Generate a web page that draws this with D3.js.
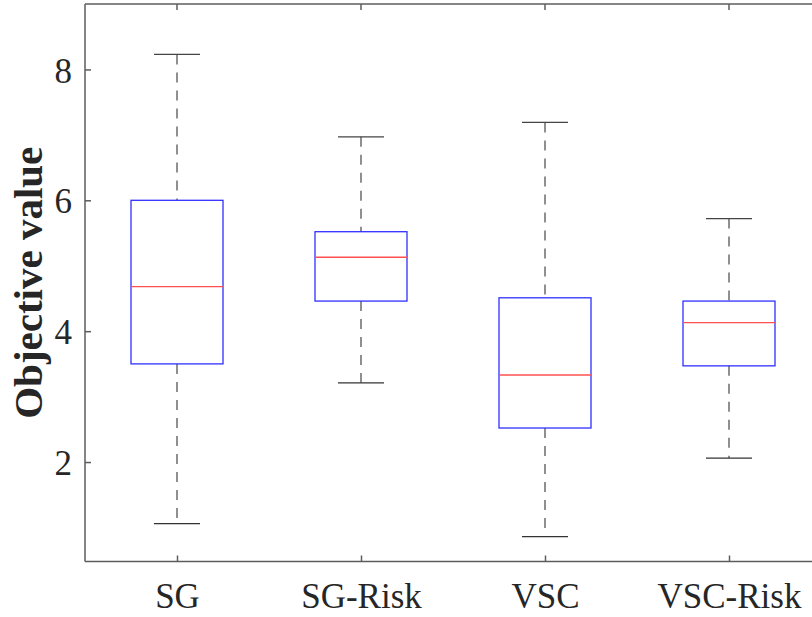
<!DOCTYPE html>
<html>
<head>
<meta charset="utf-8">
<script src="https://cdn.jsdelivr.net/npm/d3@7/dist/d3.min.js"></script>
<style>
  html, body { margin: 0; padding: 0; background: #fff; }
  svg { display: block; }
  text { font-family: "Liberation Serif", "Times New Roman", serif; fill: #262626; }
</style>
</head>
<body>
<svg id="chart" width="812" height="617"></svg>
<script>
// Box-plot summary statistics per method
const categories = ["SG", "SG-Risk", "VSC", "VSC-Risk"];
const lowerWhisker = [1.06, 3.21, 0.86, 2.06];
const q1Values     = [3.50, 4.46, 2.52, 3.47];
const medians      = [4.68, 5.13, 3.33, 4.13];
const q3Values     = [6.00, 5.52, 4.51, 4.46];
const upperWhisker = [8.23, 6.97, 7.19, 5.72];
const yTicks = [2, 4, 6, 8];

const boxes = categories.map((c, i) => ({
  name: c, pos: i + 1,
  lo: lowerWhisker[i], q1: q1Values[i], med: medians[i], q3: q3Values[i], hi: upperWhisker[i]
}));

const svg = d3.select("#chart");
const plotLeft = 85, plotRight = 821, plotTop = 4, plotBottom = 561.5;

const x = d3.scaleLinear().domain([0.5, 4.5]).range([plotLeft, plotRight]);
const y = d3.scaleLinear().domain([0.48, 9.0]).range([plotBottom, plotTop]);

const axisColor = "#5c5c5c";
const boxHalf = 0.25, capHalf = 0.125;

// Whiskers (dashed) from box edges to the adjacent values
const g = svg.append("g");
g.selectAll("line.wu").data(boxes).join("line")
  .attr("x1", d => x(d.pos)).attr("x2", d => x(d.pos))
  .attr("y1", d => y(d.hi)).attr("y2", d => y(d.q3))
  .attr("stroke", "#555").attr("stroke-width", 1.3).attr("stroke-dasharray", "10,8");
g.selectAll("line.wl").data(boxes).join("line")
  .attr("x1", d => x(d.pos)).attr("x2", d => x(d.pos))
  .attr("y1", d => y(d.q1)).attr("y2", d => y(d.lo))
  .attr("stroke", "#555").attr("stroke-width", 1.3).attr("stroke-dasharray", "10,8");

// Whisker caps
g.selectAll("line.cu").data(boxes).join("line")
  .attr("x1", d => x(d.pos - capHalf)).attr("x2", d => x(d.pos + capHalf))
  .attr("y1", d => y(d.hi)).attr("y2", d => y(d.hi))
  .attr("stroke", "#444").attr("stroke-width", 1.3);
g.selectAll("line.cl").data(boxes).join("line")
  .attr("x1", d => x(d.pos - capHalf)).attr("x2", d => x(d.pos + capHalf))
  .attr("y1", d => y(d.lo)).attr("y2", d => y(d.lo))
  .attr("stroke", "#333").attr("stroke-width", 1.3);

// Boxes
g.selectAll("rect.box").data(boxes).join("rect")
  .attr("x", d => x(d.pos - boxHalf))
  .attr("width", d => x(d.pos + boxHalf) - x(d.pos - boxHalf))
  .attr("y", d => y(d.q3))
  .attr("height", d => y(d.q1) - y(d.q3))
  .attr("fill", "none").attr("stroke", "#3030ff").attr("stroke-width", 1.3);

// Medians
g.selectAll("line.med").data(boxes).join("line")
  .attr("x1", d => x(d.pos - boxHalf)).attr("x2", d => x(d.pos + boxHalf))
  .attr("y1", d => y(d.med)).attr("y2", d => y(d.med))
  .attr("stroke", "#ff5050").attr("stroke-width", 1.3);

// Axes frame (left, bottom, top)
const frame = svg.append("g").attr("stroke", axisColor).attr("stroke-width", 1.5).attr("fill", "none");
frame.append("line").attr("x1", plotLeft).attr("x2", plotLeft).attr("y1", plotTop).attr("y2", plotBottom);
frame.append("line").attr("x1", plotLeft).attr("x2", plotRight).attr("y1", plotBottom).attr("y2", plotBottom);
frame.append("line").attr("x1", plotLeft).attr("x2", plotRight).attr("y1", plotTop).attr("y2", plotTop);

// Y axis ticks (inward) and labels
const yAxis = d3.axisLeft(y).tickValues(yTicks).tickSizeInner(-6).tickSizeOuter(0).tickPadding(13)
  .tickFormat(d3.format("d"));
const ya = svg.append("g").attr("transform", `translate(${plotLeft},0)`).call(yAxis);
ya.select(".domain").remove();
ya.selectAll(".tick line").attr("stroke", axisColor).attr("stroke-width", 1.5);
ya.selectAll(".tick text").attr("font-size", 35).attr("fill", "#262626")
  .attr("font-family", "'Liberation Serif', serif").attr("dy", "0.36em");

// X axis ticks (inward) and labels
const xAxis = d3.axisBottom(x).tickValues(boxes.map(d => d.pos)).tickSizeInner(-6).tickSizeOuter(0)
  .tickPadding(22).tickFormat((d, i) => categories[i]);
const xa = svg.append("g").attr("transform", `translate(0,${plotBottom})`).call(xAxis);
xa.select(".domain").remove();
xa.selectAll(".tick line").attr("stroke", axisColor).attr("stroke-width", 1.5);
xa.selectAll(".tick text").attr("font-size", 35).attr("fill", "#262626")
  .attr("font-family", "'Liberation Serif', serif");

// Top-edge ticks
svg.append("g").selectAll("line").data(boxes).join("line")
  .attr("x1", d => x(d.pos)).attr("x2", d => x(d.pos))
  .attr("y1", plotTop).attr("y2", plotTop + 6)
  .attr("stroke", axisColor).attr("stroke-width", 1.5);

// Y axis title
svg.append("text")
  .attr("transform", `translate(42,${(plotTop + plotBottom) / 2}) rotate(-90)`)
  .attr("text-anchor", "middle")
  .attr("font-size", 41).attr("font-weight", "bold").attr("fill", "#262626")
  .text("Objective value");
</script>
</body>
</html>
